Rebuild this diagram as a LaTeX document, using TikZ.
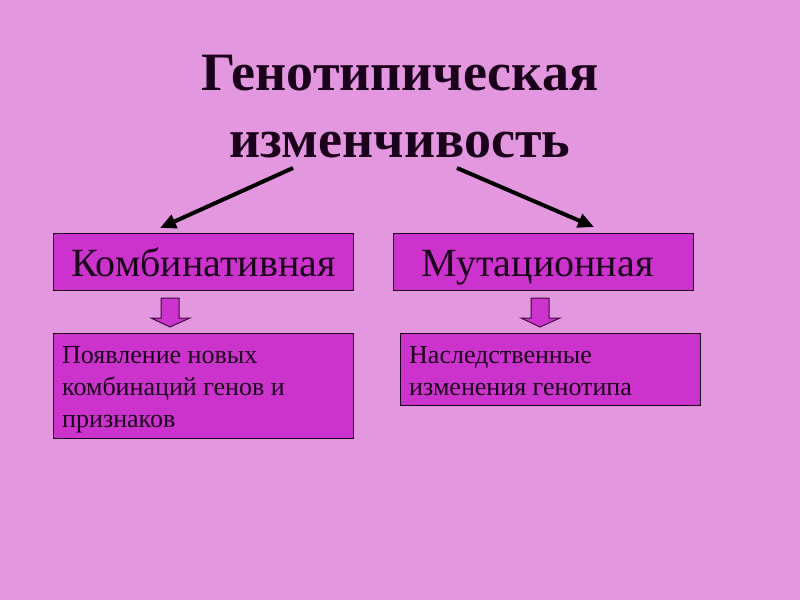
\documentclass[tikz,border=0pt]{standalone}
\usepackage{fontspec}
\setmainfont{Liberation Serif}
\usetikzlibrary{arrows.meta}
\definecolor{bg}{HTML}{E397DF}
\definecolor{boxc}{HTML}{CC33CC}
\definecolor{txt}{HTML}{1A001A}
\tikzset{
  titletext/.style={font=\bfseries\fontsize{54}{60}\selectfont, text=txt, inner sep=0pt, anchor=base},
  catbox/.style={draw=txt, line width=1pt, fill=boxc, minimum width=300pt, minimum height=57pt, inner sep=0pt, font=\fontsize{40}{46}\selectfont, text=txt, text height=33pt, text depth=4pt},
  descbox/.style={draw=txt, line width=1pt, fill=boxc, minimum width=300pt, inner sep=0pt, anchor=north west},
  desctext/.style={inner sep=0pt, anchor=north west, align=left, font=\fontsize{26}{32}\selectfont, text=txt},
  bigarrow/.style={line width=4pt, -{Triangle[length=16pt,width=14pt]}, draw=black},
  blockarrow/.style={draw=txt!80!boxc, line width=1pt, fill=boxc},
}
\begin{document}
\begin{tikzpicture}[x=1pt,y=-1pt]
\fill[bg] (0,0) rectangle (800,600);
\useasboundingbox (0,0) rectangle (800,600);
\node[titletext] (title) at (400,90) {Генотипическая};
\node[titletext] (title2) at (400,157) {изменчивость};
\node[catbox, anchor=north west] (komb) at (53,233) {Комбинативная};
\node[catbox, anchor=north west] (mut) at (393,233) {\hspace{-12pt}Мутационная};
\node[descbox, minimum height=105pt] (d1) at (53,333) {};
\node[descbox, minimum height=72pt] (d2) at (400,333) {};
\node[desctext] (d1t) at (62,340.6) {\strut Появление новых\\комбинаций генов и\\признаков};
\node[desctext] (d2t) at (409,340.6) {\strut Наследственные\\изменения генотипа};
\coordinate (tl) at (293,168);
\coordinate (tr) at (457,168);
\coordinate (kl) at (160,228);
\coordinate (mr) at (594,227);
\draw[bigarrow] (tl) -- (kl);
\draw[bigarrow] (tr) -- (mr);
\draw[blockarrow] (161,298) -- (179,298) -- (179,318) -- (190,318) -- (170,327) -- (151,318) -- (161,318) -- cycle;
\draw[blockarrow] (531,298) -- (549,298) -- (549,318) -- (560,318) -- (540,327) -- (521,318) -- (531,318) -- cycle;
\end{tikzpicture}
\end{document}
